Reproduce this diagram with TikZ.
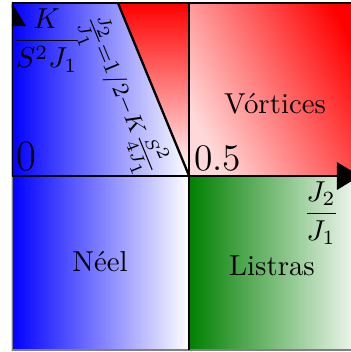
\documentclass[tikz,border=0pt]{standalone}
\usepackage{amsmath}
\usepackage{tikz}
\usetikzlibrary{arrows.meta, calc}

\begin{document}
\begin{tikzpicture}[
  scale=0.96,
  axis/.style={thick, -{Triangle[length=8pt, width=9.5pt]}},
  edge/.style={thick},
  frame/.style={draw=gray, thin},
  tick/.style={inner sep=1.5pt},
  phase/.style={font=\normalsize},
]
\useasboundingbox (-0.152,-2.235) rectangle (4.305,2.235);
\coordinate (O) at (0,0);
\coordinate (half) at (2.25,0);
\coordinate (xend) at (4.42,0);
\coordinate (ytop) at (0,2.197);
\coordinate (ybot) at (0,-2.21);
\coordinate (ctop) at (1.346,2.197);
\coordinate (htop) at (2.25,2.197);
\coordinate (hbot) at (2.25,-2.21);
\coordinate (rtop) at (4.5,2.197);
\coordinate (rmid) at (4.5,0);

\begin{scope}
\clip (0,-2.23) rectangle (4.305,2.23);
\shade[left color=blue, right color=white] (ybot) rectangle (half);
\shade[left color=blue, right color=white] (O) -- (ytop) -- (ctop) -- (half) -- cycle;
\shade[top color=red, bottom color=white] (ctop) -- (htop) -- (half) -- cycle;
\shade[top color=red, bottom color=red!15!white, shading angle=-62] (half) rectangle (rtop);
\shade[left color=green!50!black, right color=white] (hbot) rectangle (rmid);
\draw[frame] (ybot) rectangle (rtop);
\draw[edge] (ytop) -- (rtop);
\draw[edge] (hbot) -- (htop);
\draw[edge] (ctop) -- node[sloped, below=2pt, pos=0.46, inner sep=1pt, font=\fontsize{11.5}{14}\selectfont] (line) {$\scriptstyle\frac{J_2}{J_1}=1/2-K\frac{S^2}{4J_1}$} (half);
\draw[axis] (O) -- (ytop);
\draw[axis] (O) -- (xend);
\end{scope}

\node[tick, anchor=south west, font=\fontsize{15}{18}\selectfont] (zero) at (O) {0};
\node[tick, anchor=south west, font=\fontsize{13}{16}\selectfont] (halfl) at (half) {0.5};
\node[anchor=north west, inner sep=0pt, yshift=-1.8pt] (klab) at (ytop) {$\dfrac{K}{S^2J_1}$};
\node[anchor=north east, inner sep=0pt] (jlab) at ($(xend)+(-0.26,-0.06)$) {$\dfrac{J_2}{J_1}$};

\node[phase] (vort) at (3.340,0.914) {V\'ortices};
\node[phase] (neel) at (1.118,-1.092) {N\'eel};
\node[phase] (listras) at (3.302,-1.143) {Listras};
\end{tikzpicture}
\end{document}
